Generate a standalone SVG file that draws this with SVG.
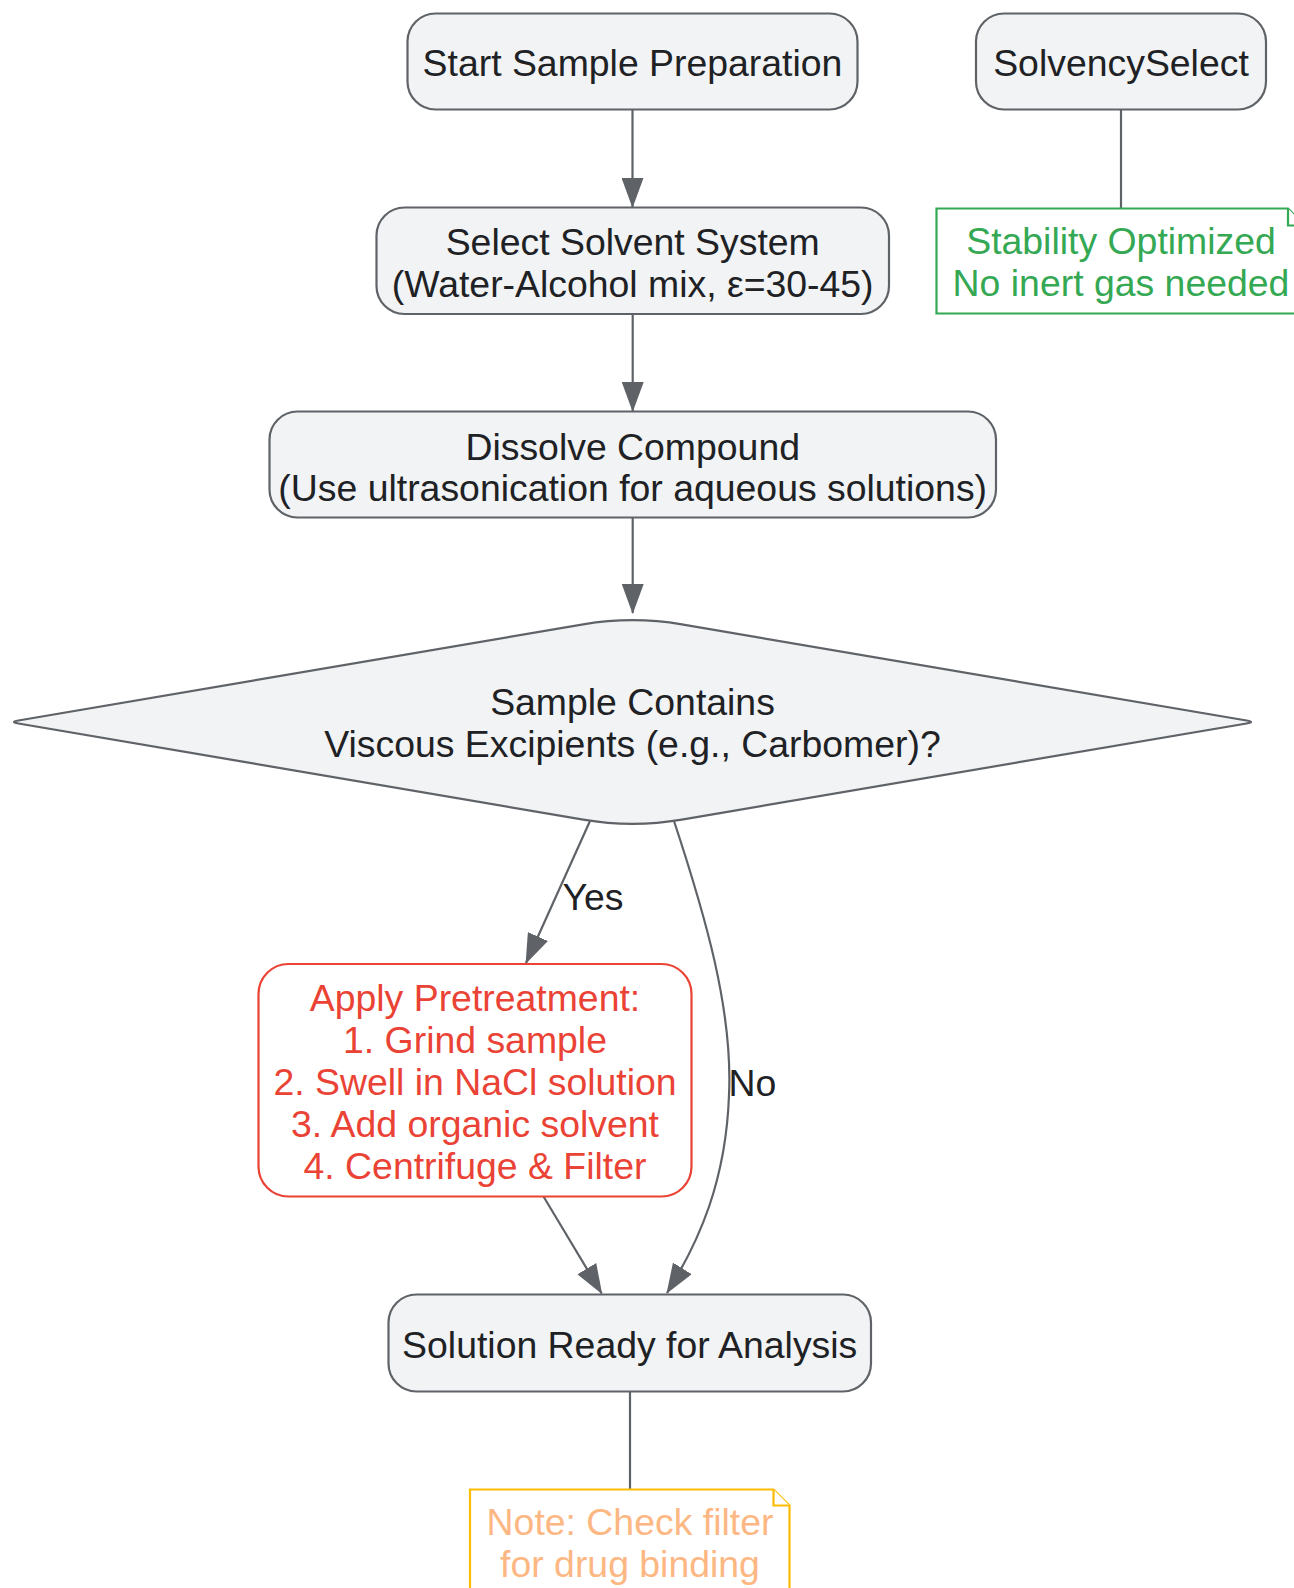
<svg xmlns="http://www.w3.org/2000/svg" width="1294" height="1588" viewBox="0 0 1294 1588">
<defs>
<marker id="arrow" markerUnits="userSpaceOnUse" markerWidth="30" markerHeight="22" viewBox="0 0 30 22" refX="29" refY="11" orient="auto"><path d="M0,0 L30,11 L0,22 z" fill="#5f6368"/></marker>
</defs>
<style>
.node .shape {fill:#f1f3f4; stroke:#5f6368; stroke-width:2.2}
.t {font-family:"Liberation Sans",Arial,Helvetica,sans-serif; font-size:37.4px; fill:#202124; text-anchor:middle}
.edge {fill:none; stroke:#5f6368; stroke-width:2.2}
.arrow {marker-end:url(#arrow)}
.red .shape {fill:#ffffff; stroke:#ea4335; stroke-width:2.2}
.red .t {fill:#ea4335}
.green .shape {fill:#ffffff; stroke:#34a853; stroke-width:2.2}
.green .t {fill:#34a853}
.yellow .shape {fill:#ffffff; stroke:#fbbc04; stroke-width:2.2}
.yellow .t {fill:#fdb783}
</style>
<rect width="1294" height="1588" fill="#ffffff"/>
<g id="connectors">
<path class="edge arrow" d="M632.5,109.5 L632.5,207"/>
<path class="edge arrow" d="M632.7,314 L632.7,411"/>
<path class="edge arrow" d="M632.7,518 L632.7,613"/>
<path class="edge arrow" d="M590,821 L526,963"/>
<path class="edge arrow" d="M674,821 C705,915 733,1010 729,1095 C726,1180 700,1240 667,1293"/>
<path class="edge arrow" d="M543.5,1196.5 L601.7,1293.5"/>
<path class="edge" d="M1121,109.5 L1121,208.5"/>
<path class="edge" d="M630,1392 L630,1489.5"/>
<text class="t" x="593" y="910">Yes</text>
<text class="t" x="752.5" y="1096">No</text>
</g>
<g id="start" class="node">
<rect class="shape" x="407.5" y="13.5" width="450" height="96" rx="28"/>
<text class="t" x="632.5" y="76">Start Sample Preparation</text>
</g>
<g id="solvencyselect" class="node">
<rect class="shape" x="976" y="13.5" width="290" height="96" rx="28"/>
<text class="t" x="1121" y="76">SolvencySelect</text>
</g>
<g id="stability-note" class="node green">
<path class="shape" d="M936.5,208.5 L1288,208.5 L1305,225.5 L1305,313.5 L936.5,313.5 Z"/>
<path class="shape" d="M1288,208.5 L1288,225.5 L1305,225.5"/>
<text class="t" x="1121" y="254">Stability Optimized</text>
<text class="t" x="1121" y="296">No inert gas needed</text>
</g>
<g id="select-solvent" class="node">
<rect class="shape" x="376.5" y="207.5" width="512.5" height="106.5" rx="28"/>
<text class="t" x="632.7" y="254.5">Select Solvent System</text>
<text class="t" x="632.7" y="296.5">(Water-Alcohol mix, ε=30-45)</text>
</g>
<g id="dissolve" class="node">
<rect class="shape" x="269.5" y="411.5" width="726.5" height="106" rx="28"/>
<text class="t" x="632.7" y="459.5">Dissolve Compound</text>
<text class="t" x="632.7" y="501">(Use ultrasonication for aqueous solutions)</text>
</g>
<g id="decision" class="node">
<path class="shape" d="M583.2,624.4 Q632.5,616 681.8,624.4 L1246.6,720.5 Q1255.5,722 1246.6,723.5 L681.8,819.6 Q632.5,828 583.2,819.6 L18.4,723.5 Q9.5,722 18.4,720.5 Z"/>
<text class="t" x="632.5" y="714.7">Sample Contains</text>
<text class="t" x="632.5" y="756.7">Viscous Excipients (e.g., Carbomer)?</text>
</g>
<g id="pretreatment" class="node red">
<rect class="shape" x="258.5" y="964" width="433" height="232.5" rx="30"/>
<text class="t" x="475" y="1010.5">Apply Pretreatment:</text>
<text class="t" x="475" y="1052.5">1. Grind sample</text>
<text class="t" x="475" y="1094.5">2. Swell in NaCl solution</text>
<text class="t" x="475" y="1136.5">3. Add organic solvent</text>
<text class="t" x="475" y="1178.5">4. Centrifuge &amp; Filter</text>
</g>
<g id="solution-ready" class="node">
<rect class="shape" x="388.5" y="1294.5" width="482.5" height="97" rx="28"/>
<text class="t" x="629.7" y="1357.7">Solution Ready for Analysis</text>
</g>
<g id="filter-note" class="node yellow">
<path class="shape" d="M470,1489.5 L773.5,1489.5 L789.5,1505.5 L789.5,1596 L470,1596 Z"/>
<path class="shape" d="M773.5,1489.5 L773.5,1505.5 L789.5,1505.5"/>
<text class="t" x="630" y="1535">Note: Check filter</text>
<text class="t" x="630" y="1577">for drug binding</text>
</g>
</svg>
